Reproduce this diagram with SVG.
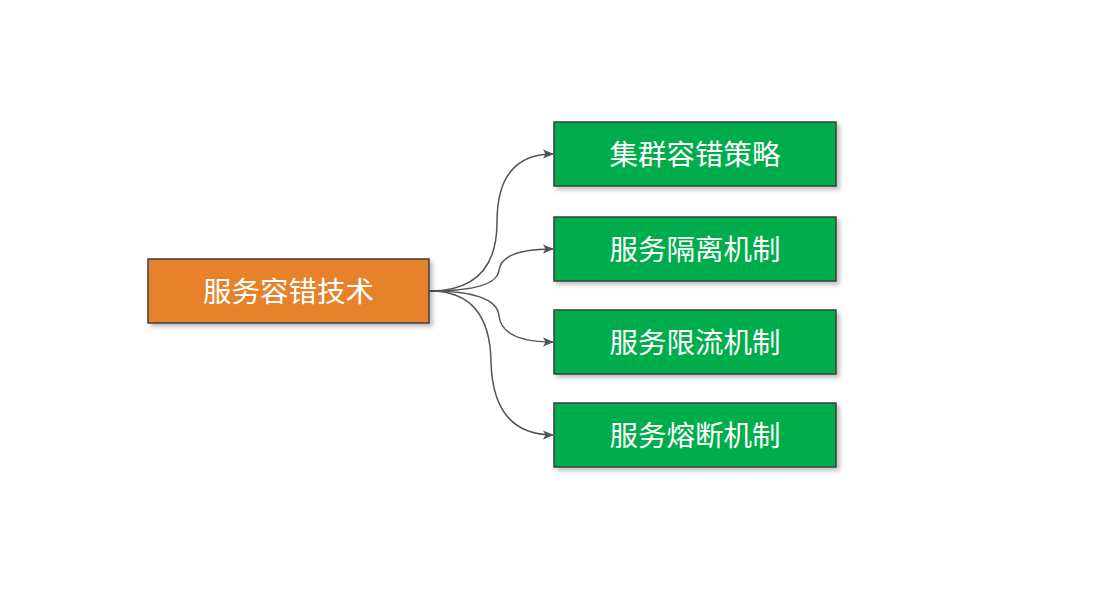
<svg xmlns="http://www.w3.org/2000/svg" width="1108" height="606" viewBox="0 0 1108 606">
<style>
.box{stroke:#3d3d3d;stroke-width:1.5}
.t{font-family:"Noto Sans CJK SC","Noto Sans",sans-serif;font-size:28.5px;fill:#ffffff;text-anchor:middle;dominant-baseline:central}
.c{fill:none;stroke:#555555;stroke-width:1.5}
</style>
<defs>
<filter id="sh" x="-10%" y="-20%" width="130%" height="160%">
<feDropShadow dx="3" dy="3" stdDeviation="2" flood-color="#000" flood-opacity="0.25"/>
</filter>
<marker id="ar" markerWidth="11" markerHeight="10" refX="10" refY="5" orient="auto" markerUnits="userSpaceOnUse">
<path d="M0,0.5 L11,5 L0,9.5 L2.5,5 Z" fill="#555555"/>
</marker>
</defs>
<rect width="1108" height="606" fill="#ffffff"/>
<g id="connectors">
<path class="c" marker-end="url(#ar)" d="M430,291 Q497,291 497,222 Q497,154 553,154"/>
<path class="c" marker-end="url(#ar)" d="M430,291 Q497,291 499,270 Q502,249 553,249"/>
<path class="c" marker-end="url(#ar)" d="M430,291 Q497,291 499,316 Q502,342 553,342"/>
<path class="c" marker-end="url(#ar)" d="M430,291 Q490,291 491,362 Q493,435 553,435"/>
</g>
<g id="root">
<rect class="box" x="148" y="259" width="281" height="64" fill="#e8822a" filter="url(#sh)"/>
<text class="t" x="288.5" y="289">服务容错技术</text>
</g>
<g id="n1">
<rect class="box" x="554" y="122" width="282" height="64" fill="#00ad4e" filter="url(#sh)"/>
<text class="t" x="695" y="152">集群容错策略</text>
</g>
<g id="n2">
<rect class="box" x="554" y="217" width="282" height="64" fill="#00ad4e" filter="url(#sh)"/>
<text class="t" x="695" y="247">服务隔离机制</text>
</g>
<g id="n3">
<rect class="box" x="554" y="310" width="282" height="64" fill="#00ad4e" filter="url(#sh)"/>
<text class="t" x="695" y="340">服务限流机制</text>
</g>
<g id="n4">
<rect class="box" x="554" y="403" width="282" height="64" fill="#00ad4e" filter="url(#sh)"/>
<text class="t" x="695" y="433">服务熔断机制</text>
</g>
</svg>
